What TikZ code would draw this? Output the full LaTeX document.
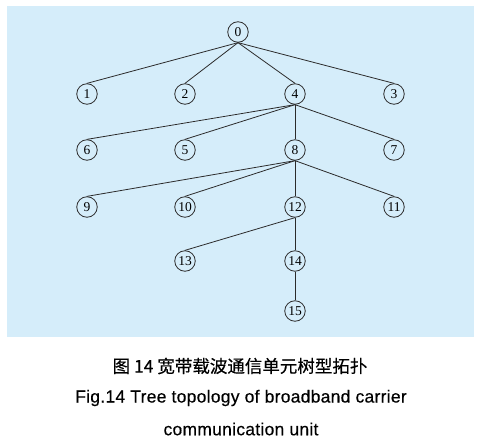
\documentclass[tikz,border=0pt]{standalone}
\usepackage{fontspec}
\usepackage{tikz}
\usetikzlibrary{positioning}
\setmainfont{Liberation Serif}
\newfontfamily\capfont[LetterSpace=1.5,FakeBold=0.4]{Liberation Sans}
\newfontfamily\cjkfont[FakeBold=0.5]{Noto Sans CJK SC}
\definecolor{panel}{HTML}{D5EDFA}
\definecolor{edgec}{HTML}{2B2B2B}

\begin{document}
\begin{tikzpicture}[x=1pt,y=-1pt,
  nd/.style={circle,draw=edgec,line width=0.8pt,minimum size=20.5pt,inner sep=0pt,
             font=\fontsize{13.5}{14}\selectfont},
  e/.style={draw=edgec,line width=0.8pt},
  captxt/.style={font=\fontsize{17.5}{20}\selectfont\capfont,inner sep=0pt}]

\useasboundingbox (0,0) rectangle (483,441);
\fill[panel] (7,6) rectangle (474,337);

\node[nd](n0) at (238,32){0};
\node[nd](n1) at (87,94){1};
\node[nd](n2) at (185,94){2};
\node[nd](n4) at (295,94){4};
\node[nd](n3) at (394,94){3};

\node[nd](n6) at (87,150){6};
\node[nd](n5) at (185,150){5};
\node[nd](n8) at (295,150){8};
\node[nd](n7) at (394,150){7};

\node[nd](n9) at (87,207){9};
\node[nd](n10) at (185,207){10};
\node[nd](n12) at (295,207){12};
\node[nd](n11) at (394,207){11};

\node[nd](n13) at (185,261){13};
\node[nd](n14) at (295,261){14};
\node[nd](n15) at (295,311){15};

\node[captxt,font=\fontsize{17.5}{20}\selectfont\cjkfont](c1) at (240,366){图 14 宽带载波通信单元树型拓扑};
\node[captxt](c2) at (241,398){Fig.14 Tree topology of broadband carrier};
\node[captxt](c3) at (241,429){communication unit};

\draw[e](n0.south)--(n1.north); \draw[e](n0.south)--(n2.north);
\draw[e](n0.south)--(n4.north); \draw[e](n0.south)--(n3.north);
\draw[e](n4.south)--(n6.north); \draw[e](n4.south)--(n5.north);
\draw[e](n4.south)--(n8.north); \draw[e](n4.south)--(n7.north);
\draw[e](n8.south)--(n9.north); \draw[e](n8.south)--(n10.north);
\draw[e](n8.south)--(n12.north); \draw[e](n8.south)--(n11.north);
\draw[e](n12.south)--(n13.north); \draw[e](n12.south)--(n14.north);
\draw[e](n14.south)--(n15.north);
\end{tikzpicture}
\end{document}
